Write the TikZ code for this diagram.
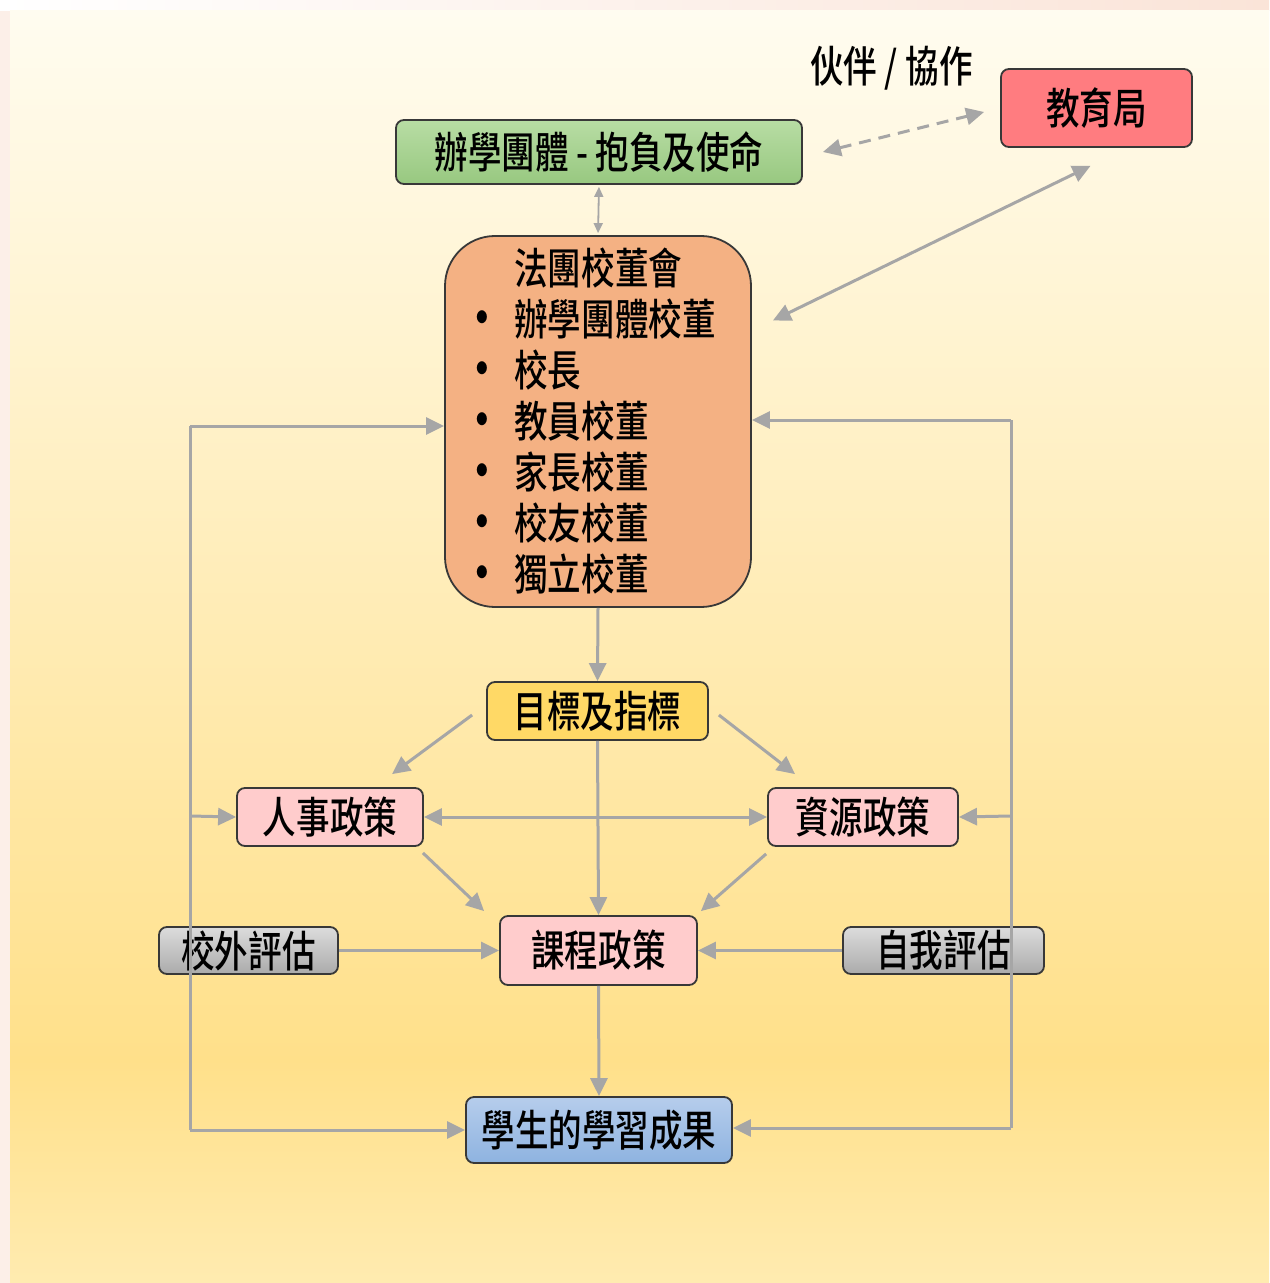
\documentclass[tikz,border=0pt]{standalone}
\usepackage{fontspec}
\setmainfont[FakeStretch=0.78, BoldFont={Noto Sans CJK TC Medium}, BoldFeatures={FakeStretch=0.78}]{Noto Sans CJK TC}
\usetikzlibrary{arrows.meta,calc}
\definecolor{bgtop}{HTML}{FFFCF0}
\definecolor{bgmid}{HTML}{FFE08A}
\definecolor{bgbot}{HTML}{FFEBB0}
\definecolor{framecol}{HTML}{FCEFE8}
\definecolor{framestrip}{HTML}{FAE4D8}
\definecolor{linegray}{HTML}{A6A6A6}
\definecolor{edgecol}{HTML}{383838}
\definecolor{edbfill}{HTML}{FF7C80}
\definecolor{greentop}{HTML}{B8DDA4}
\definecolor{greenbot}{HTML}{98C880}
\definecolor{imcfill}{HTML}{F4B183}
\definecolor{goalfill}{HTML}{FFD966}
\definecolor{pinkfill}{HTML}{FFCCCC}
\definecolor{graytop}{HTML}{DCDCDC}
\definecolor{graybot}{HTML}{ABABAB}
\definecolor{bluetop}{HTML}{B6CDEC}
\definecolor{bluebot}{HTML}{8EB3E0}
\newcommand{\bul}{\makebox[27pt][l]{\raisebox{-1.5pt}{\fontsize{28}{25.5}\selectfont •}}}
\tikzset{
  txt/.style={font=\bfseries\fontsize{21.5}{25.5}\selectfont},
  box/.style={txt, draw=edgecol, line width=0.9pt, rounded corners=4pt, inner sep=0pt},
  tip/.tip={Triangle[length=9pt,width=8.5pt]},
  smalltip/.tip={Triangle[length=5pt,width=4.5pt]},
  arr/.style={draw=linegray, line width=1.5pt, -tip},
  darr/.style={draw=linegray, line width=1.5pt, tip-tip},
  ln/.style={draw=linegray, line width=1.5pt}
}
\begin{document}
\begin{tikzpicture}[x=0.5pt,y=-0.5pt]
\useasboundingbox (0,0) rectangle (1269,1283);
% background
\fill[framecol] (0,0) rectangle (1269,1283);
\shade[left color=white, right color=framestrip] (0,0) rectangle (1269,11);
\shade[top color=bgtop, bottom color=bgmid] (10,11) rectangle (1269,1061);
\shade[top color=bgmid, bottom color=bgbot] (10,1060) rectangle (1269,1283);

% nodes
\node[txt, inner sep=0pt] (partner) at (891.5,68) {伙伴 / 協作};
\node[box, fill=edbfill, minimum width=95.5pt, minimum height=39pt] (edb) at (1096.5,108) {教育局};
\node[box, top color=greentop, bottom color=greenbot, minimum width=203pt, minimum height=32pt] (sb) at (599,152) {辦學團體 - 抱負及使命};
\node[box, rounded corners=25pt, fill=imcfill, minimum width=153pt, minimum height=185.5pt, align=left] (imc) at (598,421.5)
  {\hspace*{27pt}法團校董會\\
   \bul 辦學團體校董\hspace*{10pt}\mbox{}\\
   \bul 校長\\
   \bul 教員校董\\
   \bul 家長校董\\
   \bul 校友校董\\
   \bul 獨立校董};
\node[box, fill=goalfill, minimum width=110.5pt, minimum height=29pt] (goal) at (597.5,711) {目標及指標};
\node[box, fill=pinkfill, minimum width=93pt, minimum height=29pt] (hr) at (330,817) {人事政策};
\node[box, fill=pinkfill, minimum width=95pt, minimum height=29pt] (res) at (863,817) {資源政策};
\node[box, fill=pinkfill, minimum width=98.5pt, minimum height=34.5pt] (cur) at (598.5,950.5) {課程政策};
\node[box, top color=graytop, bottom color=graybot, minimum width=89.5pt, minimum height=23.5pt] (ext) at (248.5,950.5) {校外評估};
\node[box, top color=graytop, bottom color=graybot, minimum width=100.5pt, minimum height=23.5pt] (self) at (943.5,950.5) {自我評估};
\node[box, top color=bluetop, bottom color=bluebot, minimum width=133pt, minimum height=33pt] (out) at (599,1130) {學生的學習成果};

% loop corner coordinates
\coordinate (lt) at (190,426);
\coordinate (lm) at (190,816);
\coordinate (lb) at (190,1130);
\coordinate (rt) at (1011,420);
\coordinate (rm) at (1011,816);
\coordinate (rb) at (1011,1128);

% connectors
\draw[darr, dash pattern=on 6pt off 4pt] ([shift={(20,0)}]sb.east) -- ([shift={(-16,4)}]edb.west);
\draw[draw=linegray, line width=0.9pt, smalltip-smalltip, shorten <=1pt, shorten >=1pt] (sb.south) -- (imc.north);
\draw[darr] ([shift={(-6,18)}]edb.south) -- ([shift={(21,-101)}]imc.east);
\draw[arr] (imc.south) -- (goal.north);
\draw[arr] ([shift={(-14,4)}]goal.west) -- ([shift={(62,-13)}]hr.north);
\draw[arr] ([shift={(10,4)}]goal.east) -- ([shift={(-68,-13)}]res.north);
\draw[arr] (goal.south) -- (cur.north);
\draw[darr] (hr.east) -- (res.west);
\draw[arr] ([shift={(-1,6)}]hr.south east) -- ([shift={(-15,-4)}]cur.north west);
\draw[arr] ([shift={(-1,7)}]res.south west) -- ([shift={(3,-4)}]cur.north east);
\draw[arr] (ext.east) -- (cur.west);
\draw[arr] (self.west) -- (cur.east);
\draw[arr] (cur.south) -- (out.north);
% left loop
\draw[ln] (lt) -- (lb);
\draw[arr] (lt) -- (imc.west |- lt);
\draw[arr] (lm) -- (hr.west);
\draw[arr] (lb) -- (out.west);
% right loop
\draw[ln] (rt) -- (rb);
\draw[arr] (rt) -- (imc.east |- rt);
\draw[arr] (rm) -- (res.east);
\draw[arr] (rb) -- (out.east |- rb);
\end{tikzpicture}
\end{document}
